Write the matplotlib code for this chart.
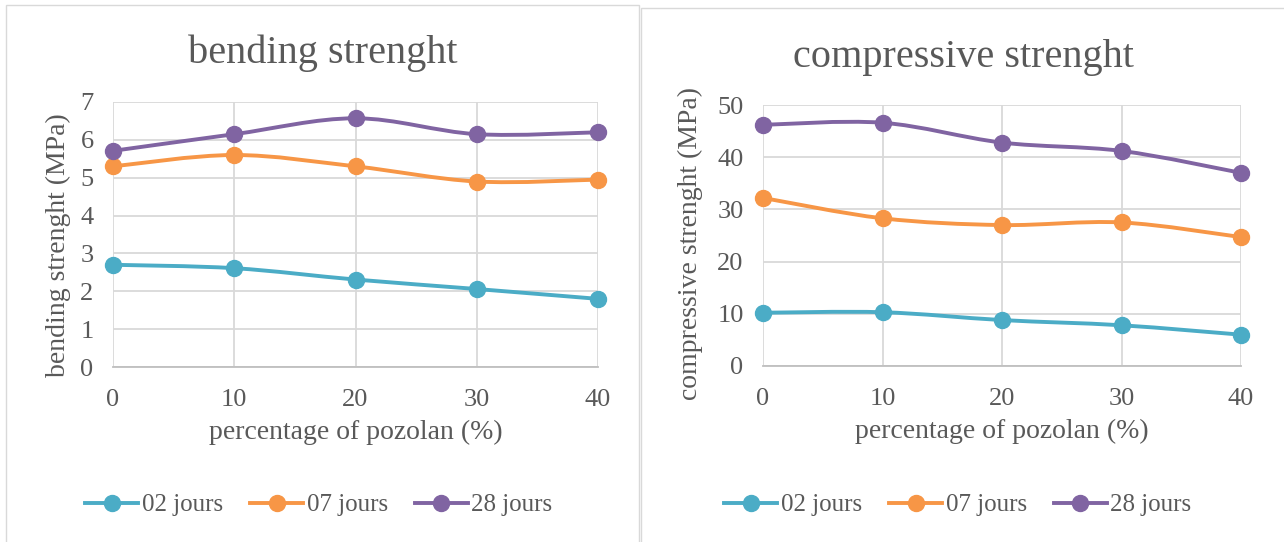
import numpy as np
import matplotlib
matplotlib.use('Agg')
import matplotlib.pyplot as plt
from matplotlib.path import Path
from matplotlib.patches import PathPatch, Rectangle
from matplotlib.lines import Line2D

# pozolan content (%)
pozolan = [0, 10, 20, 30, 40]
ages = ['02 jours', '07 jours', '28 jours']

# bending strength (MPa)
bending_02 = [2.70, 2.61, 2.31, 2.06, 1.80]
bending_07 = [5.30, 5.60, 5.30, 4.90, 4.95]
bending_28 = [5.71, 6.15, 6.57, 6.15, 6.20]

# compressive strength (MPa)
compress_02 = [10.2, 10.3, 8.8, 7.8, 6.0]
compress_07 = [32.2, 28.3, 27.0, 27.5, 24.7]
compress_28 = [46.2, 46.6, 42.8, 41.2, 37.0]

colors = ['#4BACC6', '#F79646', '#8064A2']
text_col = '#595959'
grid_col = '#D9D9D9'

plt.rcParams['font.family'] = ['Liberation Serif', 'DejaVu Serif']

W, H = 1284, 542


def smooth_path(x, y):
    """Bezier path through the points, like a spreadsheet 'smoothed line'."""
    pts = np.column_stack([x, y]).astype(float)
    n = len(pts)
    verts = [pts[0]]
    codes = [Path.MOVETO]
    for i in range(n - 1):
        p0 = pts[i - 1] if i > 0 else pts[i]
        p1 = pts[i]
        p2 = pts[i + 1]
        p3 = pts[i + 2] if i + 2 < n else pts[i + 1]
        verts += [p1 + (p2 - p0) / 6, p2 - (p3 - p1) / 6, p2]
        codes += [Path.CURVE4] * 3
    return Path(verts, codes)


def draw_panel(ax, series, ymax, ystep, title, ylabel, title_xy, legend_x,
               ylab_xy, xlab_y):
    for vals, c in zip(series, colors):
        ax.add_patch(PathPatch(smooth_path(pozolan, vals), fill=False,
                               edgecolor=c, lw=2.8, zorder=3, capstyle='round'))
        ax.plot(pozolan, vals, 'o', color=c, ms=11.5, zorder=4, clip_on=False)
    ax.set_xlim(0, 40)
    ax.set_ylim(0, ymax)
    ax.set_xticks(pozolan)
    ax.set_yticks(np.arange(0, ymax + ystep / 2, ystep))
    ax.grid(True, color=grid_col, lw=1.3, zorder=0)
    ax.set_axisbelow(True)
    for s in ['top', 'right', 'left']:
        ax.spines[s].set_visible(False)
    ax.spines['bottom'].set_color('#BFBFBF')
    ax.spines['bottom'].set_linewidth(1.3)
    ax.tick_params(length=0, labelsize=19, labelcolor=text_col)
    ax.tick_params(axis='x', pad=16)
    ax.tick_params(axis='y', pad=14)
    ax.set_xlabel('percentage of pozolan (%)', fontsize=20, color=text_col, va='center')
    ax.set_ylabel(ylabel, fontsize=20, color=text_col, va='center')
    ax.xaxis.set_label_coords(0.5, xlab_y)
    ax.yaxis.set_label_coords(*ylab_xy)
    fig.text(title_xy[0] / W, 1 - title_xy[1] / H, title, fontsize=29,
             color=text_col, ha='center', va='center')
    handles = [Line2D([], [], color=c, lw=2.8, marker='o', ms=11.5) for c in colors]
    ax.legend(handles, ages, loc='center', bbox_to_anchor=(legend_x / W, 1 - 505 / H),
              bbox_transform=fig.transFigure, ncol=3, frameon=False, fontsize=18,
              labelcolor=text_col, handlelength=2.1, handletextpad=0.15,
              columnspacing=1.1)


fig = plt.figure(figsize=(W / 100, H / 100), dpi=100)

# panel frames
fig.add_artist(Rectangle((6 / W, -0.01), 633 / W, 1 - 5 / H + 0.01,
                         transform=fig.transFigure, fill=False, ec='#D9D9D9', lw=1))
fig.add_artist(Rectangle((641 / W, -0.01), 645 / W, 1 - 8 / H + 0.01,
                         transform=fig.transFigure, fill=False, ec='#D9D9D9', lw=1))

ax1 = fig.add_axes([113 / W, 1 - 367 / H, 485 / W, 265 / H])
ax2 = fig.add_axes([763 / W, 1 - 366 / H, 478 / W, 261 / H])

draw_panel(ax1, [bending_02, bending_07, bending_28], 7, 1,
           'bending strenght', 'bending strenght (MPa)', (323, 53), 319,
           (-0.113, 0.46), -0.245)
draw_panel(ax2, [compress_02, compress_07, compress_28], 50, 10,
           'compressive strenght', 'compressive strenght (MPa)', (963, 58), 958,
           (-0.151, 0.471), -0.25)

fig.savefig('out.png', dpi=100)
